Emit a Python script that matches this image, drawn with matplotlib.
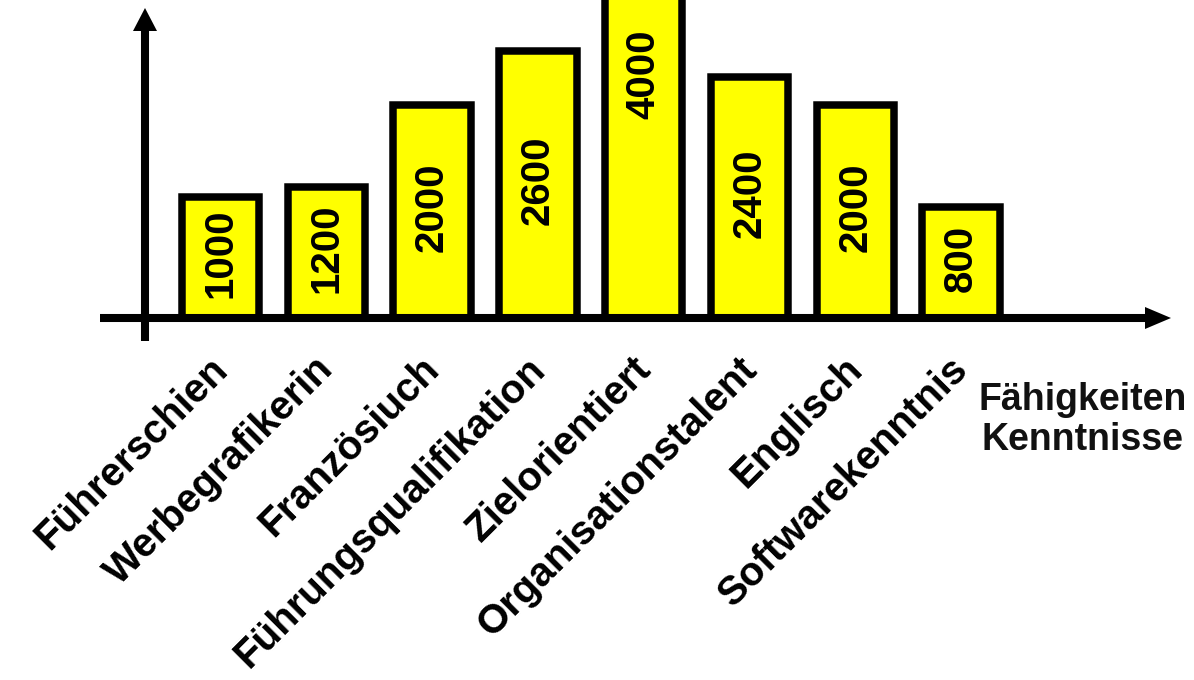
import matplotlib
matplotlib.use("Agg")
import matplotlib.pyplot as plt
from matplotlib.lines import Line2D
from matplotlib.patches import Polygon

# ---- data ----
categories = ["Führerschien", "Werbegrafikerin", "Französiuch", "Führungsqualifikation",
              "Zielorientiert", "Organisationstalent", "Englisch", "Softwarekenntnis"]
value_labels = ["1000", "1200", "2000", "2600", "4000", "2400", "2000", "800"]
bar_heights = [121, 131, 213, 267, 480, 241, 213, 111]   # visual bar heights as drawn
axis_label_lines = ["Fähigkeiten", "Kenntnisse"]

W, H = 1194, 680
fig = plt.figure(figsize=(W / 100, H / 100), dpi=100)
fig.patch.set_facecolor("white")
ax = fig.add_axes([0, 0, 1, 1])
ax.set_axis_off()

# data space mapped to the canvas
x0_px, step_px, base_px = 220.5, 105.8, 318
ax.set_xlim(-x0_px / step_px, (W - x0_px) / step_px)
ax.set_ylim(base_px - H, base_px)

FONT = "Liberation Sans"

xs = list(range(len(categories)))
ax.bar(xs, bar_heights, width=0.733, color="#FFFF00", edgecolor="black",
       linewidth=5.4, joinstyle="miter", zorder=2)

for x, h, lab in zip(xs, bar_heights, value_labels):
    yc = h / 2 + 4
    ax.text(x, yc, lab, rotation=90, ha="center", va="center", fontsize=29,
            fontweight="bold", family=FONT, color="black", zorder=3)

for x, cat in zip(xs, categories):
    ax.text(x + 0.085, -53, cat, rotation=45, rotation_mode="anchor",
            ha="right", va="baseline", fontsize=29, fontweight="bold",
            family=FONT, color="black", zorder=3)

# ---- axes with arrows (pixel coords from top-left) ----
def P(x, y):
    return (x / W, 1 - y / H)

def line(p1, p2, lw):
    (xa, ya), (xb, yb) = P(*p1), P(*p2)
    fig.add_artist(Line2D([xa, xb], [ya, yb], transform=fig.transFigure,
                          color="black", linewidth=lw, solid_capstyle="butt", zorder=5))

def tri(pts):
    fig.add_artist(Polygon([P(*p) for p in pts], closed=True, transform=fig.transFigure,
                           facecolor="black", edgecolor="none", zorder=6))

lw_axis = 5.8
line((100, 318), (1150, 318), lw_axis)
tri([(1145, 307), (1145, 329), (1171, 318)])
line((145, 341), (145, 28), lw_axis)
tri([(133, 31), (157, 31), (145, 8)])

# ---- axis caption ----
ax.text((1083 - x0_px) / step_px, base_px - 410, axis_label_lines[0], ha="center",
        va="baseline", fontsize=27, fontweight="bold", family=FONT, color="#111111")
ax.text((1083 - x0_px) / step_px, base_px - 450, axis_label_lines[1], ha="center",
        va="baseline", fontsize=27, fontweight="bold", family=FONT, color="#111111")

fig.savefig("out.png", dpi=100, facecolor="white")
